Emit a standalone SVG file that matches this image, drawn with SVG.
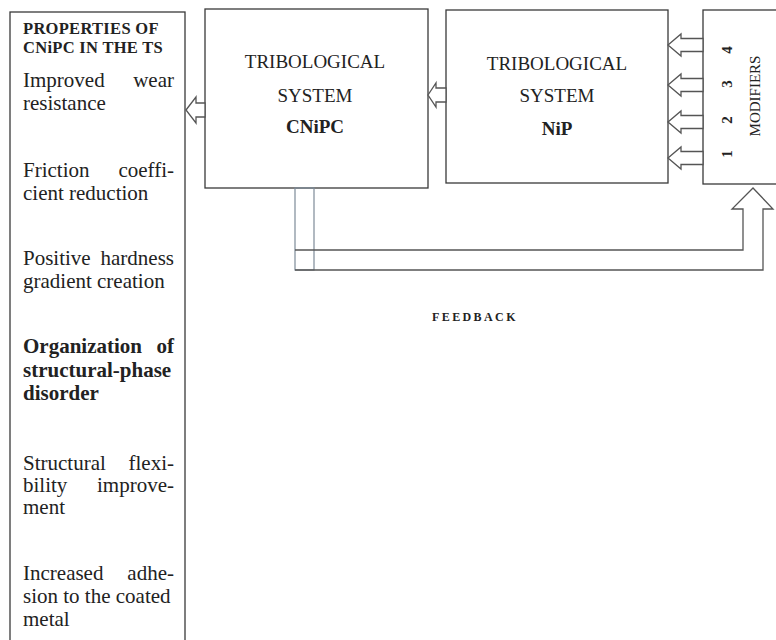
<svg xmlns="http://www.w3.org/2000/svg" width="776" height="640" viewBox="0 0 776 640">
<style>
text{font-family:"Liberation Serif","Times New Roman",serif;fill:#222}
.box{fill:#fff;stroke:#3a3a3a;stroke-width:1.3}
.arr{fill:#fff;stroke:#555;stroke-width:1.3;stroke-linejoin:miter}
.b{font-weight:bold}
.body text{font-size:21px}
.hd{font-size:16.5px;font-weight:bold;letter-spacing:0.3px}
.title{font-size:19px;text-anchor:middle}
.fb{fill:none;stroke:#555;stroke-width:1.3}
</style>
<rect width="776" height="640" fill="#fff"/>
<g id="properties">
<rect class="box" x="10" y="12" width="175" height="640"/>
<text class="hd" x="23" y="34">PROPERTIES OF</text>
<text class="hd" x="23" y="53">CNiPC IN THE TS</text>
<g class="body">
<text x="23" y="87">Improved</text><text x="174" y="87" text-anchor="end">wear</text>
<text x="23" y="110">resistance</text>
<text x="23" y="177">Friction</text><text x="174" y="177" text-anchor="end">coeffi-</text>
<text x="23" y="200">cient reduction</text>
<text x="23" y="265">Positive</text><text x="174" y="265" text-anchor="end">hardness</text>
<text x="23" y="288">gradient creation</text>
<text class="b" x="23" y="353">Organization</text><text class="b" x="174" y="353" text-anchor="end">of</text>
<text class="b" x="23" y="377">structural-phase</text>
<text class="b" x="23" y="400">disorder</text>
<text x="23" y="470">Structural</text><text x="174" y="470" text-anchor="end">flexi-</text>
<text x="23" y="492">bility</text><text x="174" y="492" text-anchor="end">improve-</text>
<text x="23" y="514">ment</text>
<text x="23" y="580">Increased</text><text x="174" y="580" text-anchor="end">adhe-</text>
<text x="23" y="603">sion to the coated</text>
<text x="23" y="626">metal</text>
</g>
</g>
<g id="ts-cnipc">
<rect class="box" x="205" y="9" width="223" height="179"/>
<text class="title" x="315" y="68">TRIBOLOGICAL</text>
<text class="title" x="315" y="102">SYSTEM</text>
<text class="title b" x="315" y="133">CNiPC</text>
</g>
<g id="ts-nip">
<rect class="box" x="446" y="10" width="222" height="173"/>
<text class="title" x="557" y="70">TRIBOLOGICAL</text>
<text class="title" x="557" y="102">SYSTEM</text>
<text class="title b" x="557" y="135">NiP</text>
</g>
<g id="modifiers">
<rect class="box" x="703" y="10" width="90" height="174"/>
<text font-size="15" text-anchor="middle" transform="translate(760,96) rotate(-90)">MODIFIERS</text>
<g font-size="15" font-weight="bold" text-anchor="middle">
<text transform="translate(732,50) rotate(-90)">4</text>
<text transform="translate(732,84) rotate(-90)">3</text>
<text transform="translate(732,120) rotate(-90)">2</text>
<text transform="translate(732,154) rotate(-90)">1</text>
</g>
</g>
<g id="connectors">
<path class="arr" d="M186,110 L196,97 V103 H205 V117 H196 V123 Z"/>
<path class="arr" d="M428,95 L436,83 V88 H446 V102 H436 V107 Z"/>
<path class="arr" d="M668,45 L681,34 V38.5 H703 V51.5 H681 V56 Z"/>
<path class="arr" d="M668,85 L681,74 V78.5 H703 V91.5 H681 V96 Z"/>
<path class="arr" d="M668,122 L681,111 V115.5 H703 V128.5 H681 V133 Z"/>
<path class="arr" d="M668,158 L681,147 V151.5 H703 V164.5 H681 V169 Z"/>
<rect x="295" y="188" width="19" height="82" fill="none" stroke="#7d8b98" stroke-width="1.2"/>
<path class="fb" d="M295,250 H743 V209 H732 L753,188 L773,209 H763 V270 H295"/>
</g>
<text class="b" x="432" y="321" font-size="12" letter-spacing="2.4">FEEDBACK</text>
</svg>
